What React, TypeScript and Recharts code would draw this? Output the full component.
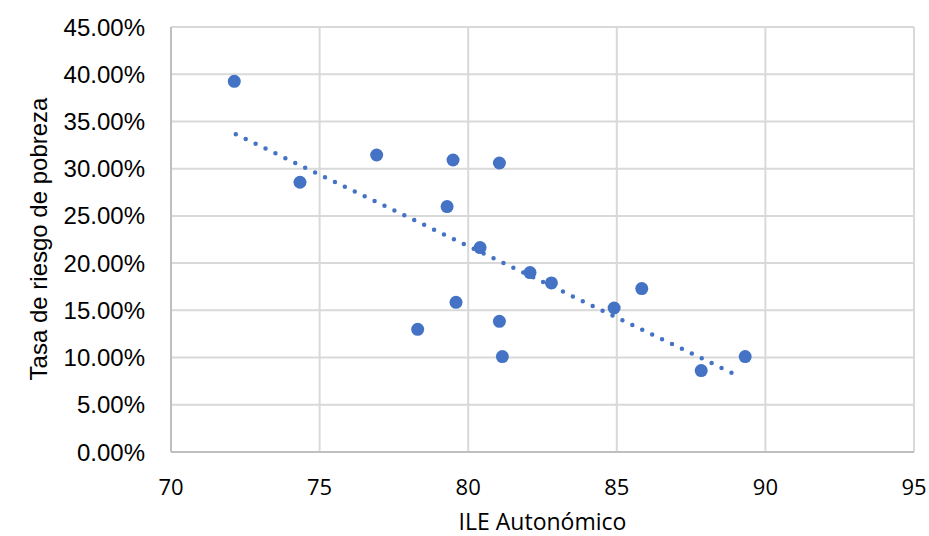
import React from "react";
import { ScatterChart, Scatter, XAxis, YAxis, CartesianGrid } from "recharts";

const ileValues = [72.13, 74.34, 76.92, 79.49, 81.05, 79.29, 80.4, 82.08, 82.8, 79.59, 78.3, 81.05, 81.15, 84.91, 85.84, 87.84, 89.32];
const povertyRates = [0.3925, 0.2856, 0.3145, 0.3092, 0.306, 0.2599, 0.2164, 0.19, 0.179, 0.1585, 0.1299, 0.1384, 0.101, 0.1525, 0.173, 0.0862, 0.101];
const trendX = [72.18, 89.09];
const trendY = [0.3364, 0.0805];
const xTicks = [70, 75, 80, 85, 90, 95];
const yTicks = [0, 0.05, 0.1, 0.15, 0.2, 0.25, 0.3, 0.35, 0.4, 0.45];

const points = ileValues.map((x, i) => ({ x, y: povertyRates[i] }));
const trend = trendX.map((x, i) => ({ x, y: trendY[i] }));

const BLUE = "#4472C4";

const Dot = (props: any) => {
  const { cx, cy } = props;
  if (cx == null || cy == null) return <g />;
  return <circle cx={cx} cy={cy} r={6.5} fill={BLUE} />;
};

const NoShape = () => <g />;

export default function App() {
  return (
    <div style={{ position: "absolute", left: 0, top: 0, background: "#fff" }}>
      <ScatterChart width={929} height={536} margin={{ top: 27, right: 15, bottom: 0, left: 0 }}>
        <CartesianGrid stroke="#d9d9d9" strokeWidth={2} />
        <XAxis
          type="number"
          dataKey="x"
          domain={[70, 95]}
          ticks={xTicks}
          allowDataOverflow
          height={84}
          tickLine={false}
          tickMargin={21}
          axisLine={{ stroke: "#bfbfbf", strokeWidth: 2 }}
          tick={{ fill: "#000", fontSize: 22, fontFamily: "Open Sans" }}
          label={{
            value: "ILE Autonómico",
            position: "insideBottom",
            offset: 6,
            fill: "#000",
            fontSize: 23,
            fontFamily: "Open Sans",
          }}
        />
        <YAxis
          type="number"
          dataKey="y"
          domain={[0, 0.45]}
          ticks={yTicks}
          allowDataOverflow
          width={171}
          tickLine={false}
          tickMargin={20}
          axisLine={{ stroke: "#bfbfbf", strokeWidth: 2 }}
          tickFormatter={(v: number) => (v * 100).toFixed(2) + "%"}
          tick={{ fill: "#000", fontSize: 24, fontFamily: "Liberation Sans" }}
          label={{
            content: () => (
              <text
                x={38}
                y={239}
                transform="rotate(-90, 38, 239)"
                textAnchor="middle"
                dominantBaseline="central"
                fill="#000"
                fontSize={24}
                fontFamily="Liberation Sans"
              >
                Tasa de riesgo de pobreza
              </text>
            ),
          }}
        />
        <Scatter data={points} fill={BLUE} shape={Dot} isAnimationActive={false} />
        <Scatter
          data={trend}
          fill={BLUE}
          shape={NoShape}
          line={{ stroke: BLUE, strokeWidth: 4.5, strokeDasharray: "0 11", strokeLinecap: "round" }}
          isAnimationActive={false}
        />
      </ScatterChart>
    </div>
  );
}
